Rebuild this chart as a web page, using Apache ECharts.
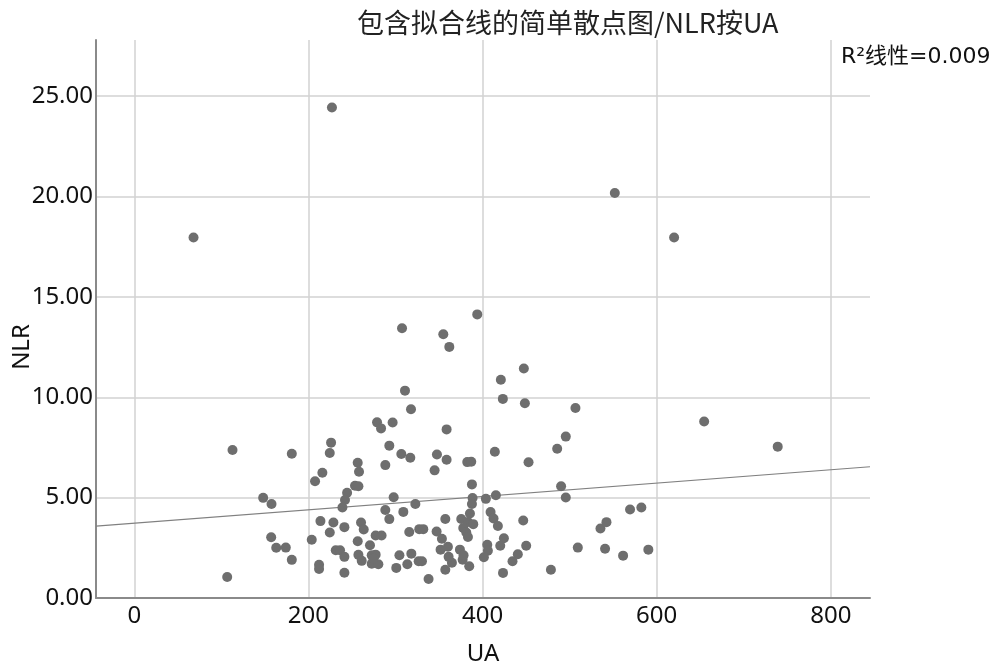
<!DOCTYPE html>
<html>
<head>
<meta charset="utf-8">
<title>NLR by UA</title>
<script src="https://cdn.jsdelivr.net/npm/echarts@6/dist/echarts.min.js"></script>
<style>
  html, body { margin: 0; padding: 0; background: #fff; }
  #chart { width: 1001px; height: 668px; }
</style>
</head>
<body>
<div id="chart"></div>
<script>
// values, one entry per dot (UA on x, NLR on y)
const uaValues = [
  68, 227, 551.9, 620, 654.5, 739,
  112.8, 180.9, 278.8, 283.4, 226.0, 224.5, 216.0, 207.6, 256.6, 258.1,
  253.5, 257.4, 244.4, 242.0, 239.0, 148.0, 157.6, 157.2, 163.0, 174.0,
  180.9, 106.7, 203.8, 213.8, 228.7, 224.5, 241.3, 260.4, 263.5, 256.6,
  277.2, 284.0, 270.7, 231.4, 236.3, 241.3, 257.4, 261.2, 272.7, 277.2,
  272.7, 280.3, 212.2, 212.2, 241.3, 274.6,
  307.5, 354.9, 361.8, 393.9, 447.4, 421.0, 423.3, 448.6, 506.7, 310.9,
  317.8, 296.7, 358.7, 292.9, 288.3, 306.7, 317.0, 347.6, 358.7, 344.9,
  382.4, 387.0, 414.1, 452.8, 485.7, 495.6, 387.8, 388.5, 403.8, 415.3,
  490.2, 495.6, 297.9, 288.3, 292.9, 322.8, 309.0, 387.8, 385.5, 409.2,
  412.6, 417.6, 446.7, 357.2, 375.5, 383.2, 389.3, 377.8, 381.3, 383.2,
  315.8, 327.3, 331.9, 347.2, 353.3, 424.5, 405.4, 420.3, 450.1, 509.4,
  351.8, 360.2, 374.0, 406.1, 304.5, 318.2, 326.6, 330.4, 313.6, 300.9,
  440.5, 434.4, 401.5, 364.8, 377.1, 384.7, 357.2, 338.0, 423.5, 478.5,
  535.4, 542.3, 569.4, 582.4, 540.7, 561.4, 590.4, 361.0, 378.2
];
const nlrValues = [
  17.96, 24.44, 20.18, 17.96, 8.79, 7.54,
  7.37, 7.19, 8.75, 8.45, 7.74, 7.22, 6.24, 5.82, 6.74, 6.29,
  5.59, 5.57, 5.24, 4.88, 4.51, 4.99, 4.68, 3.03, 2.50, 2.51,
  1.90, 1.05, 2.90, 3.83, 3.76, 3.26, 3.53, 3.76, 3.41, 2.83,
  3.11, 3.11, 2.63, 2.38, 2.38, 2.05, 2.15, 1.85, 2.13, 2.16,
  1.71, 1.68, 1.66, 1.45, 1.26, 1.96,
  13.44, 13.14, 12.51, 14.13, 11.43, 10.87, 9.92, 9.70, 9.47, 10.33,
  9.40, 8.74, 8.40, 7.59, 6.62, 7.17, 6.99, 7.15, 6.89, 6.36,
  6.77, 6.79, 7.29, 6.76, 7.44, 8.04, 5.66, 4.98, 4.94, 5.12,
  5.57, 5.01, 5.02, 4.38, 3.93, 4.68, 4.29, 4.68, 4.21, 4.28,
  3.96, 3.59, 3.86, 3.94, 3.94, 3.79, 3.68, 3.49, 3.26, 3.04,
  3.29, 3.43, 3.43, 3.31, 2.95, 2.98, 2.65, 2.60, 2.60, 2.51,
  2.41, 2.55, 2.41, 2.35, 2.13, 2.21, 1.83, 1.83, 1.68, 1.50,
  2.18, 1.83, 2.03, 1.76, 1.91, 1.58, 1.41, 0.95, 1.25, 1.41,
  3.46, 3.78, 4.41, 4.51, 2.45, 2.11, 2.41, 2.05, 2.13
];
// ends of the fitted line as drawn (UA, NLR)
const fitUA = [-44, 845];
const fitNLR = [3.58, 6.54];

const chartTitle = '包含拟合线的简单散点图/NLR按UA';
const r2Label = 'R²线性=0.009';
const yName = 'NLR';

const points = uaValues.map((v, i) => [v, nlrValues[i]]);
const fitData = fitUA.map((v, i) => [v, fitNLR[i]]);

const font = 'Noto Sans, Noto Sans CJK SC, sans-serif';
const chart = echarts.init(document.getElementById('chart'));

chart.setOption({
  backgroundColor: '#fff',
  animation: false,
  title: [
    {
      text: chartTitle,
      left: 352,
      top: 4,
      textStyle: { fontFamily: 'Noto Sans CJK SC', fontSize: 27, fontWeight: 'normal', color: '#222' }
    },
    {
      text: r2Label,
      left: 836,
      top: 41,
      textStyle: { fontFamily: 'DejaVu Sans, Noto Sans CJK SC', fontSize: 22, fontWeight: 'normal', color: '#111' }
    }
  ],
  // y axis name drawn by hand, the axis name kept sliding off the left edge
  graphic: [
    {
      type: 'text',
      x: 22,
      y: 347,
      rotation: Math.PI / 2,
      style: { text: yName, font: '24px Noto Sans', fill: '#111', align: 'center', verticalAlign: 'middle' }
    }
  ],
  grid: { left: 96, right: 131, top: 40, bottom: 70, outerBoundsMode: 'none' },
  xAxis: {
    type: 'value',
    min: -44,
    max: 845,
    name: 'UA',
    nameLocation: 'middle',
    nameGap: 44,
    nameTextStyle: { fontFamily: font, fontSize: 24, color: '#111' },
    axisLine: { onZero: false, lineStyle: { color: '#8a8a8a', width: 2 } },
    axisTick: { show: false },
    axisLabel: { showMinLabel: false, showMaxLabel: false, margin: 6, fontFamily: font, fontSize: 24, color: '#111' },
    splitLine: { show: true, showMinLine: false, showMaxLine: false, lineStyle: { color: '#d2d2d2', width: 1.5 } }
  },
  yAxis: {
    type: 'value',
    min: 0,
    max: 27.8,
    interval: 5,
    axisLine: { show: true, onZero: false, lineStyle: { color: '#8a8a8a', width: 2 } },
    axisTick: { show: false },
    axisLabel: {
      showMaxLabel: false,
      margin: 3,
      fontFamily: font,
      fontSize: 24,
      color: '#111',
      formatter: v => v.toFixed(2)
    },
    splitLine: { show: true, showMinLine: false, showMaxLine: false, lineStyle: { color: '#d2d2d2', width: 1.5 } }
  },
  series: [
    {
      type: 'scatter',
      data: points,
      symbolSize: 10,
      itemStyle: { color: '#6e6e6e', opacity: 1 },
      z: 3
    },
    {
      type: 'line',
      data: fitData,
      showSymbol: false,
      symbol: 'none',
      lineStyle: { color: '#808080', width: 1.2 },
      z: 2
    }
  ]
});
</script>
</body>
</html>
